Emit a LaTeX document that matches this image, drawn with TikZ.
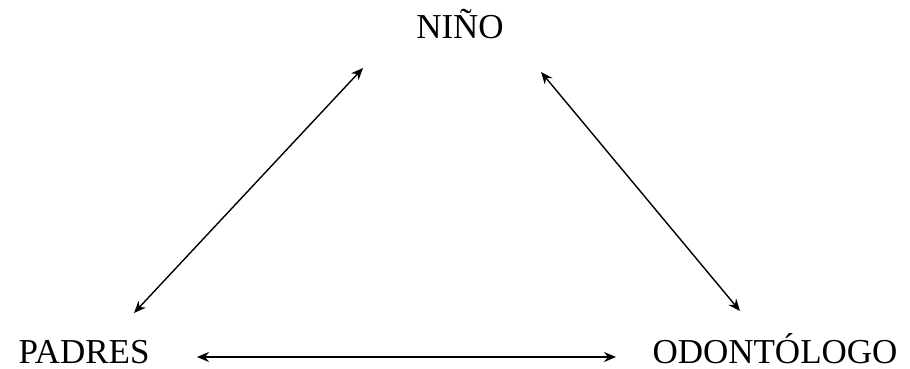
\documentclass[tikz,border=0pt]{standalone}
\usepackage{fontspec}
\setmainfont{Liberation Serif}
\usetikzlibrary{arrows.meta}
\begin{document}
\begin{tikzpicture}[x=1pt,y=-1pt,
  lbl/.style={anchor=base,inner sep=0pt,font=\fontsize{35}{40}\selectfont},
  link/.style={line width=1.4pt,{Stealth[length=12pt,width=10pt]}-{Stealth[length=12pt,width=10pt]}}]
\useasboundingbox (0,0) rectangle (910,369);
\node[lbl] (nino) at (460,39) {NIÑO};
\node[lbl] (padres) at (84,363) {PADRES};
\node[lbl] (odon) at (775,363) {ODONTÓLOGO};
\coordinate (n1) at (363,68);
\coordinate (p1) at (134,313);
\coordinate (n2) at (541,72);
\coordinate (o1) at (740,311);
\coordinate (p2) at (197,357);
\coordinate (o2) at (616,357);
\draw[link] (p1) -- (n1);
\draw[link] (n2) -- (o1);
\draw[link] (p2) -- (o2);
\end{tikzpicture}
\end{document}
